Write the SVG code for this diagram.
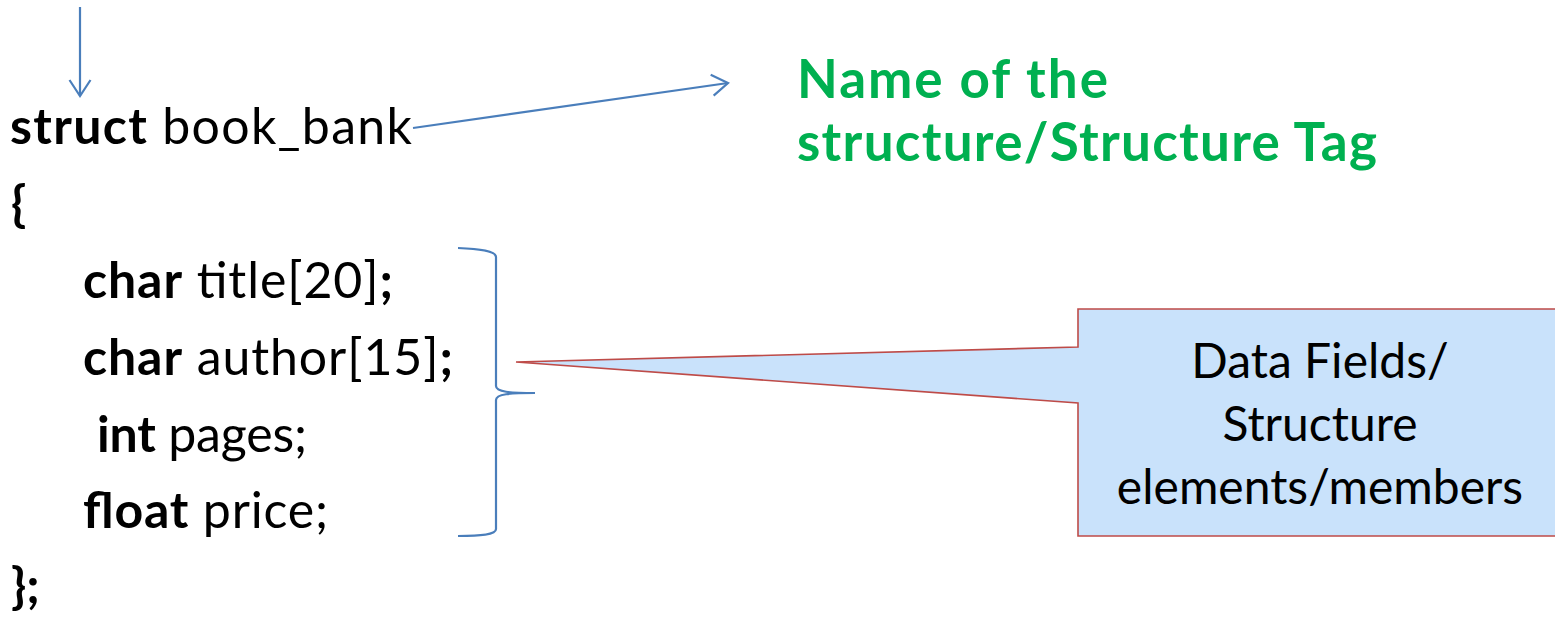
<svg xmlns="http://www.w3.org/2000/svg" width="1555" height="617" viewBox="0 0 1555 617">
  <style>
    .code { font-family: Lato, "Noto Sans", "Liberation Sans", sans-serif; font-size: 50px; fill: #000; }
    .kw { font-weight: bold; }
    .tag { font-family: Lato, "Noto Sans", "Liberation Sans", sans-serif; font-size: 53px; font-weight: bold; fill: #00B050; }
    .note { font-family: Lato, "Noto Sans", "Liberation Sans", sans-serif; font-size: 48px; fill: #000; text-anchor: middle; }
    .conn { fill: none; stroke: #4A7EBB; stroke-width: 2.2; }
  </style>
  <defs>
    <marker id="open" markerWidth="20" markerHeight="24" refX="17" refY="12" orient="auto" markerUnits="userSpaceOnUse" viewBox="0 0 20 24">
      <path d="M1,1.5 L17,12 L1,22.5" fill="none" stroke="#4A7EBB" stroke-width="2.2"/>
    </marker>
  </defs>

  <!-- code listing -->
  <g id="code">
    <text class="code" x="10" y="144" textLength="402"><tspan class="kw">struct</tspan> book_bank</text>
    <text class="code" x="11" y="221"><tspan class="kw">{</tspan></text>
    <text class="code" x="83" y="298" textLength="310"><tspan class="kw">char</tspan> title[20]<tspan class="kw">;</tspan></text>
    <text class="code" x="83" y="375" textLength="370"><tspan class="kw">char</tspan> author[15]<tspan class="kw">;</tspan></text>
    <text class="code" x="97" y="452" textLength="210"><tspan class="kw">int</tspan> pages;</text>
    <text class="code" x="83" y="528" textLength="245"><tspan class="kw">float</tspan> price;</text>
    <text class="code kw" x="11" y="603">};</text>
  </g>

  <!-- structure tag label -->
  <g id="tag-label">
    <text class="tag" x="797" y="98" textLength="311">Name of the</text>
    <text class="tag" x="797" y="161" textLength="580">structure/Structure Tag</text>
  </g>

  <!-- member callout -->
  <g id="members-callout">
    <path d="M1078,309 L1557,309 L1557,536 L1078,536 L1078,403 L516,362 L1078,347 Z" fill="#C9E2FB" stroke="#BE4B48" stroke-width="1.6"/>
    <text class="note" x="1320" y="378">Data Fields/</text>
    <text class="note" x="1320" y="441">Structure</text>
    <text class="note" x="1320" y="504">elements/members</text>
  </g>

  <!-- connectors -->
  <g id="connectors">
    <line class="conn" x1="80" y1="7" x2="80" y2="96" marker-end="url(#open)"/>
    <line class="conn" x1="413" y1="128" x2="728" y2="83" marker-end="url(#open)"/>
    <path class="conn" d="M458,248 C480,249 496,251 496,257 L496,386 C496,392 510,393 535,393 C510,393 496,394 496,400 L496,529 C496,535 480,536 458,536"/>
  </g>
</svg>
